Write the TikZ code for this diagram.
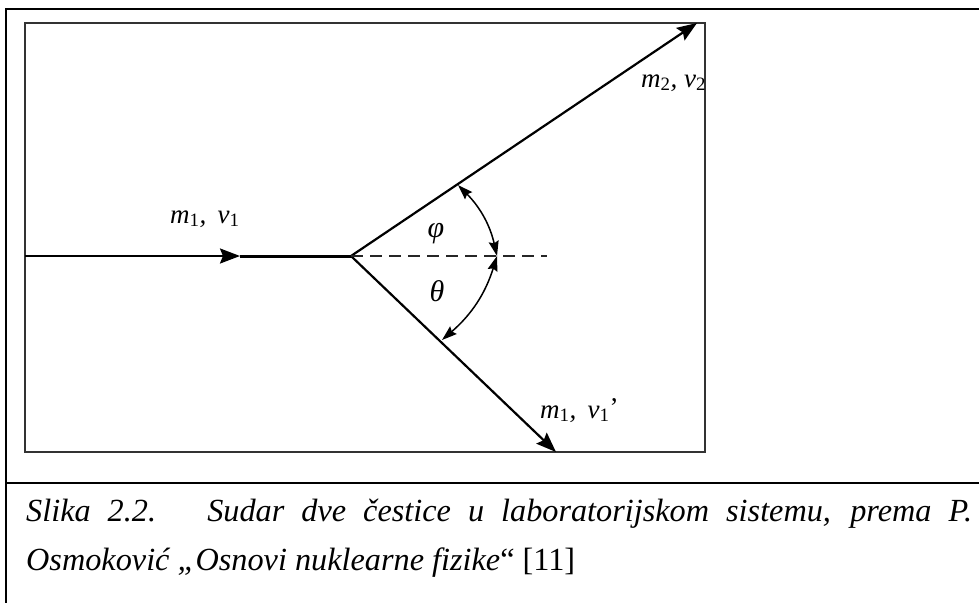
\documentclass[tikz,border=0pt]{standalone}
\usepackage{fontspec}
\setmainfont{Liberation Serif}
\usetikzlibrary{arrows.meta}
\newlength\capw
\tikzset{
  frameline/.style={line width=2.6pt, black},
  innerbox/.style={line width=1.3pt, draw=black!80},
  ray/.style={line width=2.2pt, black},
  bigtip/.style={-{Stealth[length=20pt,width=15pt,inset=3pt]}},
  arcline/.style={line width=1.5pt, black, {Stealth[length=15pt,width=10pt,inset=2pt]}-{Stealth[length=15pt,width=10pt,inset=2pt]}},
  dashline/.style={line width=1.6pt, black!85, dash pattern=on 12pt off 7pt},
  lab/.style={font=\fontsize{27}{30}\selectfont\itshape, inner sep=0pt},
  greek/.style={font=\fontsize{30}{33}\selectfont\itshape, inner sep=0pt},
  captext/.style={font=\fontsize{\capsize}{\capsize}\selectfont\itshape, inner sep=0pt, anchor=base west}
}
\newcommand{\sbs}[1]{\textsubscript{\upshape #1}}
\newcommand{\captwo}{Osmoković „Osnovi nuklearne fizike{\upshape “ [11]}}
\begin{document}
\settowidth{\capw}{\fontsize{20}{24}\selectfont\itshape\captwo}%
\pgfmathsetmacro{\capsize}{20*549/\capw}%
\begin{tikzpicture}[x=1pt,y=-1pt]
\useasboundingbox (0,0) rectangle (979,603);
% outer frame
\coordinate (fTL) at (6,9);
\coordinate (fTR) at (979,9);
\coordinate (fBL) at (6,603);
\coordinate (sL) at (6,483);
\coordinate (sR) at (979,483);
\draw[frameline] (fTR) -- (fTL) -- (fBL);
\draw[frameline] (sL) -- (sR);
% inner box
\draw[innerbox] (25,23) rectangle (705,452);
% geometry
\coordinate (S) at (25,256);
\coordinate (M) at (240,256);
\coordinate (O) at (351,256);
\coordinate (T2) at (697,23);
\coordinate (T1) at (556,452);
\coordinate (E) at (547,256);
\coordinate (A) at (458,185);
\coordinate (D) at (497,256);
\coordinate (B) at (442,340);
\draw[ray,bigtip] (S) -- (M);
\draw[ray, line width=3pt] (M) -- (O);
\draw[ray,bigtip] (O) -- (T2);
\draw[ray,bigtip] (O) -- (T1);
\draw[dashline] (O) -- (E);
\draw[arcline] (A) to[bend left=16] (D);
\draw[arcline] (D) to[bend left=16] (B);
% labels
\node[lab, anchor=base west] (l1) at (170,223) {m\sbs{1},\, v\sbs{1}};
\node[lab, anchor=base west] (l2) at (641,87) {m\sbs{2}, v\sbs{2}};
\node[lab, anchor=base west] (l3) at (540,418) {m\sbs{1},\, v\sbs{1}\raisebox{0.05em}{\upshape ’}};
\node[greek] (phi) at (436,234) {φ};
\node[greek] (th) at (437,291) {θ};
% caption
\node[captext] (c1) at (26,521) {\makebox[946pt][s]{Slika 2.2.\ \ \ Sudar dve čestice u laboratorijskom sistemu, prema P.}};
\node[captext] (c2) at (26,570) {\captwo};
\end{tikzpicture}
\end{document}
